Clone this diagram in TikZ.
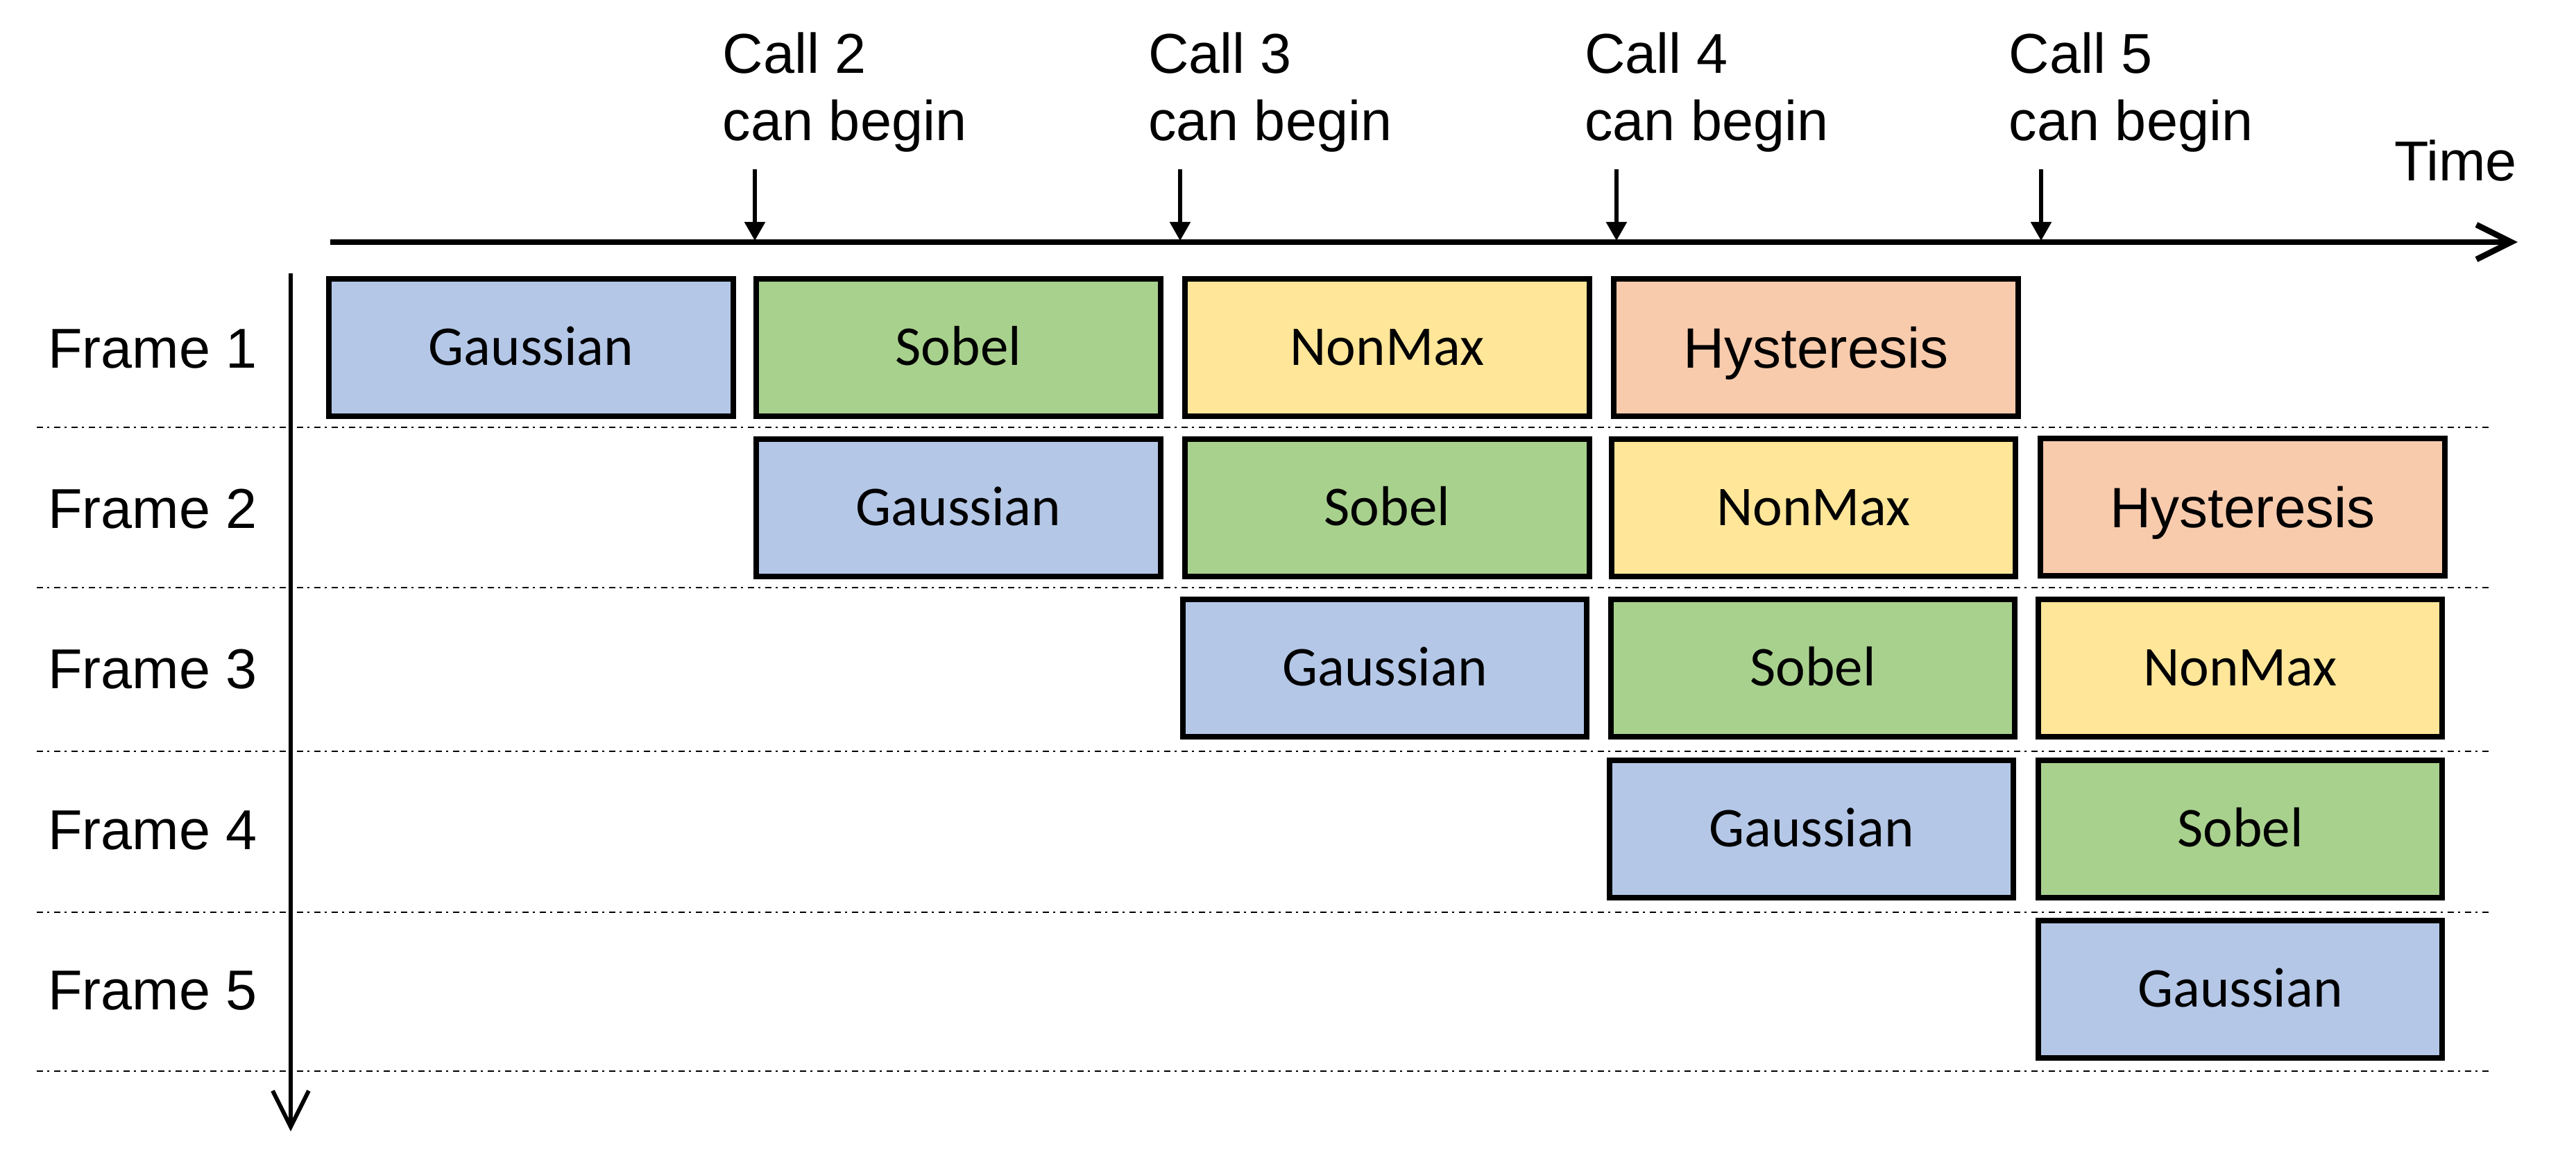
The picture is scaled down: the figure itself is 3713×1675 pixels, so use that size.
\documentclass[tikz,border=0pt]{standalone}
\usepackage{fontspec}
\setmainfont{Liberation Sans}
\newfontfamily\calfont{Carlito}
\usetikzlibrary{arrows.meta}
\definecolor{blueF}{HTML}{B4C7E7}
\definecolor{greenF}{HTML}{A9D18E}
\definecolor{yellowF}{HTML}{FFE699}
\definecolor{orangeF}{HTML}{F8CBAD}
\tikzset{
  stagebox/.style={draw=black, line width=0.8pt, minimum width=58.3pt, minimum height=19.8pt,
    inner sep=0pt, font=\calfont\fontsize{8.1}{9}\selectfont, text height=5.2pt, text depth=0pt},
  gauss/.style={stagebox, fill=blueF},
  sobel/.style={stagebox, fill=greenF},
  nonmax/.style={stagebox, fill=yellowF},
  hyst/.style={stagebox, fill=orangeF, font=\fontsize{8.2}{9}\selectfont, text height=5.9pt},
  lbl/.style={font=\fontsize{8.1}{9.7}\selectfont, inner sep=0pt},
  calllbl/.style={lbl, anchor=base west, align=left},
  framelbl/.style={lbl, anchor=base},
  sepline/.style={line width=0.28pt, dash pattern=on 0.9pt off 0.6pt on 0.3pt off 0.7pt},
  callarrow/.style={line width=0.55pt, -{Triangle[length=2.7pt,width=2.9pt]}},
}
\begin{document}
\begin{tikzpicture}[x=0.1pt,y=-0.1pt]
\useasboundingbox (0,0) rectangle (3713,1675);

% time axis
\coordinate (tstart) at (476,349);
\coordinate (tend) at (3629,349);
\draw[line width=0.85pt, -{Straight Barb[length=5pt,width=5pt]}] (tstart) -- (tend);
\node[lbl, anchor=base west] (time) at (3449,261) {Time};

% frame axis
\coordinate (fstart) at (419,394);
\coordinate (fend) at (419,1631);
\draw[line width=0.6pt, -{Straight Barb[length=5.2pt,width=5.2pt]}] (fstart) -- (fend);

% call labels and arrows
\foreach \n/\x in {2/1088,3/1701,4/2330,5/2942}{
  \node[calllbl] (call\n) at (\x-48,203) {Call \n\\can begin};
  \coordinate (ca\n) at (\x,244);
  \coordinate (cb\n) at (\x,347);
  \draw[callarrow] (ca\n) -- (cb\n);
}

% separators
\foreach \y [count=\i] in {616,847,1083,1315,1544}{
  \coordinate (sl\i) at (53,\y);
  \coordinate (sr\i) at (3592,\y);
  \draw[sepline] (sl\i) -- (sr\i);
}

% frame labels
\foreach \y [count=\i] in {501,732,963,1195,1426}{
  \node[framelbl] (frame\i) at (220,\y+30) {Frame \i};
}

% stage boxes
\node[gauss]  (g1) at (765.5,501) {Gaussian};
\node[sobel]  (s1) at (1381.5,501) {Sobel};
\node[nonmax] (n1) at (1999.5,501) {NonMax};
\node[hyst]   (h1) at (2617.5,501) {Hysteresis};

\node[gauss]  (g2) at (1381.5,732) {Gaussian};
\node[sobel]  (s2) at (1999.5,732) {Sobel};
\node[nonmax] (n2) at (2614,732) {NonMax};
\node[hyst]   (h2) at (3232.5,731) {Hysteresis};

\node[gauss]  (g3) at (1996,963) {Gaussian};
\node[sobel]  (s3) at (2613,963) {Sobel};
\node[nonmax] (n3) at (3229,963) {NonMax};

\node[gauss]  (g4) at (2611,1195) {Gaussian};
\node[sobel]  (s4) at (3229,1195) {Sobel};

\node[gauss]  (g5) at (3229,1426) {Gaussian};
\end{tikzpicture}
\end{document}
